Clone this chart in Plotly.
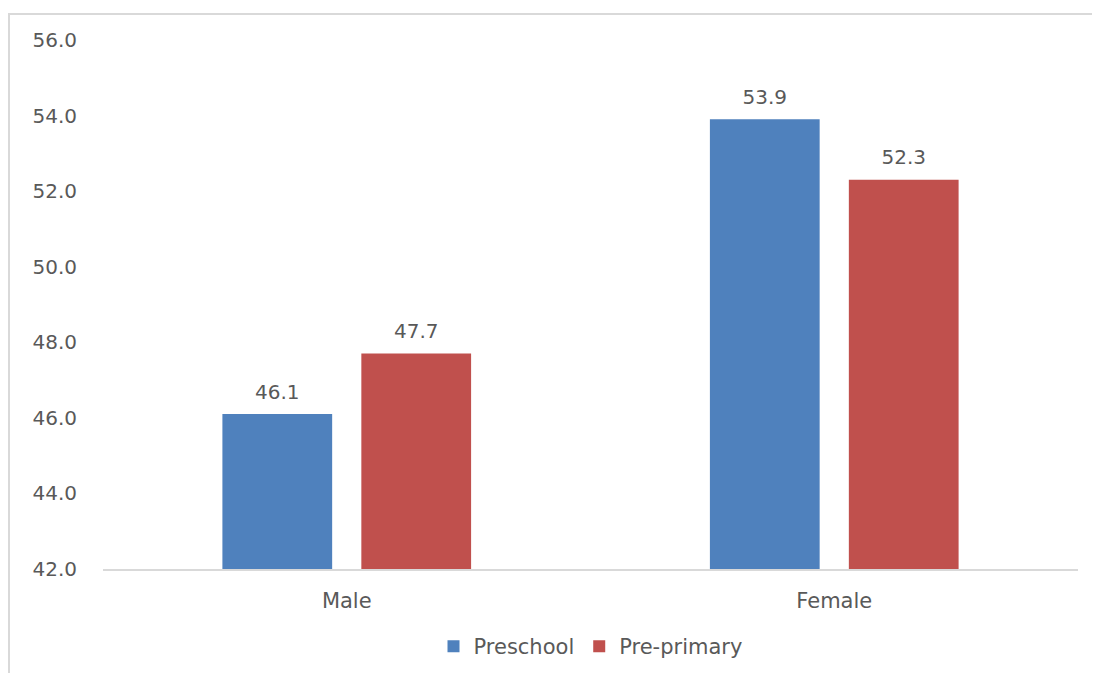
import plotly.graph_objects as go

categories = ["Male", "Female"]
preschool = [46.1, 53.9]
pre_primary = [47.7, 52.3]
y_ticks = [42, 44, 46, 48, 50, 52, 54, 56]

font_family = "DejaVu Sans"
series = [("Preschool", preschool, "#4F81BD"), ("Pre-primary", pre_primary, "#C0504D")]

fig = go.Figure()
for name, vals, color in series:
    fig.add_trace(go.Bar(
        name=name, x=categories, y=vals,
        marker_color=color, marker_line_width=0,
    ))
# value labels as grouped text-scatter, invisible markers give the gap above bars
for name, vals, color in series:
    fig.add_trace(go.Scatter(
        x=categories, y=vals, mode="markers+text",
        text=[f"{v:.1f}" for v in vals], textposition="top center",
        textfont=dict(size=20, color="#595959", family=font_family),
        marker=dict(size=15, opacity=0), showlegend=False,
        hoverinfo="skip", cliponaxis=False,
    ))

# page body adds an 8px offset, so the figure is sized/margined to compensate
fig.update_layout(
    width=1092, height=665,
    margin=dict(l=95, r=22, t=32, b=104, autoexpand=False),
    paper_bgcolor="white", plot_bgcolor="white",
    font=dict(family=font_family, size=20, color="#595959"),
    barmode="group", bargap=0.43, bargroupgap=0.21,
    scattermode="group", scattergap=0.43,
    showlegend=True,
    legend=dict(orientation="h", x=0.5, xanchor="center", y=-0.108, yanchor="top",
                font=dict(size=21, color="#595959")),
    shapes=[dict(type="rect", xref="paper", yref="paper",
                 x0=-0.0964, x1=1.1, y0=-0.3, y1=1.049,
                 line=dict(color="#D9D9D9", width=2))],
)
fig.update_yaxes(range=[42, 56], tickvals=y_ticks, tickformat=".1f",
                 showgrid=False, zeroline=False, showline=False,
                 ticklabelstandoff=25)
fig.update_xaxes(showline=True, linecolor="#D9D9D9", linewidth=2, ticks="",
                 tickfont=dict(size=21), ticklabelstandoff=12)

fig.write_html("out.html")
